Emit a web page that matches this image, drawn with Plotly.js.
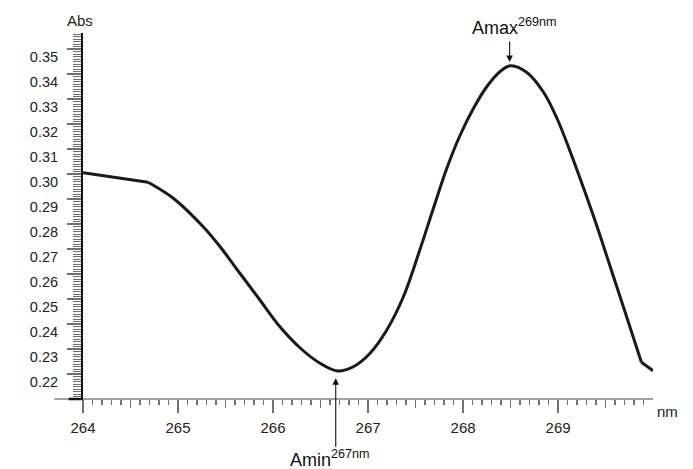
<!DOCTYPE html>
<html>
<head>
<meta charset="utf-8">
<script src="https://cdn.plot.ly/plotly-3.0.1.min.js"></script>
<style>html,body{margin:0;padding:0;background:#fff;}#chart{width:693px;height:469px;}</style>
</head>
<body>
<div id="chart"></div>
<script>
// wavelength (nm)
var wavelength = [264.00, 264.35, 264.685, 264.95, 265.265, 265.443, 265.651, 265.862, 266.073, 266.283, 266.494, 266.68, 266.845, 267.021, 267.197, 267.372, 267.548, 267.688, 267.829, 267.97, 268.11, 268.251, 268.391, 268.50, 268.672, 268.847, 268.988, 269.128, 269.269, 269.41, 269.55, 269.70, 269.877, 270.00];
// absorbance
var absorbance = [0.3005, 0.2986, 0.2967, 0.2903, 0.2789, 0.2709, 0.2603, 0.2496, 0.2389, 0.2305, 0.2243, 0.2212, 0.2229, 0.2283, 0.2376, 0.2509, 0.2700, 0.2863, 0.3023, 0.3156, 0.3263, 0.3350, 0.3410, 0.3433, 0.3406, 0.3327, 0.3223, 0.3089, 0.2943, 0.2790, 0.2628, 0.2454, 0.2247, 0.2213];
// indices of the sharp corners in the recorded curve
var kinkStart = 2;   // 264.685 nm
var kinkEnd = 32;    // 269.877 nm

var xTickVals = [264, 265, 266, 267, 268, 269];
var xTickText = ["264", "265", "266", "267", "268", "269"];
var xHalfTicks = [264.5, 265.5, 266.5, 267.5, 268.5, 269.5];
var yTickVals = [0.22, 0.23, 0.24, 0.25, 0.26, 0.27, 0.28, 0.29, 0.30, 0.31, 0.32, 0.33, 0.34, 0.35];
var yTickText = ["0.22", "0.23", "0.24", "0.25", "0.26", "0.27", "0.28", "0.29", "0.30", "0.31", "0.32", "0.33", "0.34", "0.35"];

var amaxPoint = {x: 268.49, y: 0.3448};
var aminPoint = {x: 266.66, y: 0.2183};

var regular = "'Liberation Sans', Arial, sans-serif";
var tickColor = "#707070";
var lineColor = "#1a1a1a";
var xRange = [264, 269.999];
var yRange = [0.21, 0.3564];

function seg(a, b, shape) {
  return {
    x: wavelength.slice(a, b + 1), y: absorbance.slice(a, b + 1),
    type: "scatter", mode: "lines",
    line: {color: lineColor, width: 3, shape: shape, smoothing: 1},
    hoverinfo: "skip", showlegend: false
  };
}

var traces = [
  seg(0, kinkStart, "linear"),
  seg(kinkStart, kinkEnd, "spline"),
  seg(kinkEnd, wavelength.length - 1, "linear"),
  {x: [], y: [], xaxis: "x2", yaxis: "y", type: "scatter", mode: "lines", showlegend: false, hoverinfo: "skip"}
];

var layout = {
  width: 693, height: 469,
  margin: {l: 83, r: 40, t: 33, b: 70},
  paper_bgcolor: "#fff", plot_bgcolor: "#fff",
  showlegend: false,
  xaxis: {
    range: xRange, showgrid: false, zeroline: false, showline: false,
    tickmode: "array", tickvals: xTickVals, ticktext: xTickText,
    ticks: "outside", ticklen: 13, tickwidth: 1.5, tickcolor: tickColor,
    ticklabelstandoff: 2,
    tickfont: {family: regular, size: 15, color: "#222"},
    minor: {tickmode: "linear", tick0: 264, dtick: 0.1, ticks: "outside", ticklen: 5, tickwidth: 1.3, tickcolor: tickColor, showgrid: false}
  },
  xaxis2: {
    range: xRange, overlaying: "x", anchor: "y", side: "bottom",
    showgrid: false, zeroline: false, showline: false, showticklabels: false,
    tickmode: "array", tickvals: xHalfTicks,
    ticks: "outside", ticklen: 8, tickwidth: 1.3, tickcolor: tickColor
  },
  yaxis: {
    range: yRange, showgrid: false, zeroline: false,
    showline: true, linecolor: "#111", linewidth: 2,
    tickmode: "array", tickvals: yTickVals, ticktext: yTickText,
    ticks: "outside", ticklen: 14, tickwidth: 1.5, tickcolor: tickColor,
    ticklabelshift: 8, ticklabelstandoff: 6,
    tickfont: {family: regular, size: 14.5, color: "#222"},
    minor: {tickmode: "linear", tick0: 0.21, dtick: 0.001, ticks: "outside", ticklen: 8, tickwidth: 1, tickcolor: tickColor, showgrid: false}
  },
  shapes: [
    {type: "line", xref: "paper", yref: "paper", x0: -0.05, x1: 1, y0: 0, y1: 0, line: {color: "#808080", width: 1.6}},
    {type: "line", xref: "paper", yref: "paper", x0: -0.0251, x1: 0, y0: 0, y1: 0, line: {color: "#111", width: 2.5}}
  ],
  annotations: [
    {xref: "paper", yref: "paper", x: -0.006, y: 1.033, text: "Abs", showarrow: false, xanchor: "center", yanchor: "middle", font: {family: regular, size: 15, color: "#222"}},
    {xref: "paper", yref: "paper", x: 1.0255, y: -0.0355, text: "nm", showarrow: false, xanchor: "center", yanchor: "middle", font: {family: regular, size: 15, color: "#222"}},
    {xref: "x", yref: "y", x: amaxPoint.x, y: amaxPoint.y, text: "", showarrow: true, ax: 0, ay: -22, arrowhead: 2, arrowsize: 1.2, arrowwidth: 1.1, arrowcolor: "#111"},
    {xref: "x", yref: "y", x: aminPoint.x, y: aminPoint.y, text: "", showarrow: true, ax: 0, ay: 70, arrowhead: 2, arrowsize: 1.2, arrowwidth: 1.1, arrowcolor: "#111"},
    {xref: "paper", yref: "paper", x: 0.679, y: 1.018, text: "Amax<sup>269nm</sup>", showarrow: false, xanchor: "left", yanchor: "middle", font: {family: regular, size: 18, color: "#111"}},
    {xref: "paper", yref: "paper", x: 0.3596, y: -0.163, text: "Amin<sup>267nm</sup>", showarrow: false, xanchor: "left", yanchor: "middle", font: {family: regular, size: 18, color: "#111"}}
  ]
};

Plotly.newPlot("chart", traces, layout, {staticPlot: true, displayModeBar: false});
</script>
</body>
</html>
